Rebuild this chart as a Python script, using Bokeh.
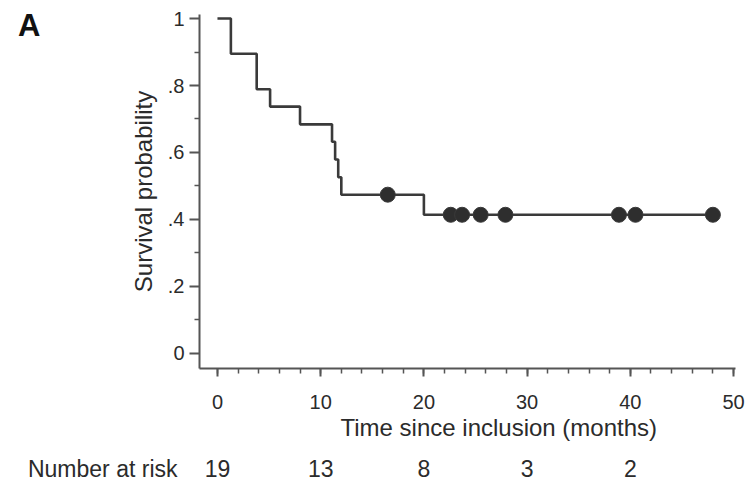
from bokeh.plotting import figure
from bokeh.models import Range1d, FixedTicker, LinearAxis, Title
from bokeh.layouts import column
from bokeh.core.properties import value
from bokeh.embed import file_html
from bokeh.resources import INLINE

# ---- data ----
step_times = [0, 1.3, 3.8, 5.1, 8.0, 11.1, 11.4, 11.7, 12.0, 20.0, 48.0]
survival = [1.0, 0.895, 0.789, 0.737, 0.684, 0.632, 0.579, 0.526, 0.474, 0.414, 0.414]
censor_times = [16.5, 22.6, 23.7, 25.5, 27.9, 38.9, 40.5, 48.0]
censor_surv = [0.474, 0.414, 0.414, 0.414, 0.414, 0.414, 0.414, 0.414]
risk_times = [0, 10, 20, 30, 40]
risk_counts = [19, 13, 8, 3, 2]
x_ticks = [0, 10, 20, 30, 40, 50]
y_ticks = [0, 0.2, 0.4, 0.6, 0.8, 1.0]
y_tick_labels = ["0", ".2", ".4", ".6", ".8", "1"]
panel_letter = "A"
risk_title = "Number at risk"
x_title = "Time since inclusion (months)"
y_title = "Survival probability"

FONT = "Liberation Sans"
INK = "#2b2b2b"
AXIS = "#555555"

W = 745
H_MAIN, H_RISK = 448, 34
LEFT, RIGHT, TOP = 199, 10, 14
BOTTOM = H_MAIN - 368
X0, X1 = -1.74, 50.19
Y0, Y1 = -0.045, 1.012


def style_fig(f):
    f.outline_line_color = None
    f.grid.visible = False
    f.background_fill_color = "white"
    f.border_fill_color = "white"


p = figure(width=W, height=H_MAIN, output_backend="svg", toolbar_location=None,
           x_range=Range1d(X0, X1), y_range=Range1d(Y0, Y1),
           min_border_left=LEFT, min_border_right=RIGHT,
           min_border_top=TOP, min_border_bottom=BOTTOM)
style_fig(p)

frame_h = H_MAIN - TOP - BOTTOM

# survival curve
p.step(step_times, survival, mode="after", line_color="#3a3a3a", line_width=2.6)
p.scatter(censor_times, censor_surv, size=15, marker="circle",
          fill_color="#2e2e2e", line_color="#3a3a3a", line_width=1)

# x axis
xa = p.xaxis[0]
xa.ticker = FixedTicker(ticks=x_ticks, minor_ticks=[v for v in range(0, 51, 2)])
xa.major_label_text_font = FONT
xa.major_label_text_font_size = "20px"
xa.major_label_text_color = INK
xa.major_label_standoff = 18
xa.axis_line_color = AXIS
xa.axis_line_width = 2
xa.major_tick_line_color = AXIS
xa.major_tick_line_width = 2
xa.major_tick_out = 8
xa.major_tick_in = 0
xa.minor_tick_line_color = AXIS
xa.minor_tick_line_width = 1.5
xa.minor_tick_out = 5
xa.minor_tick_in = 0

# x title, placed slightly right of the axis centre as in the reference
p.add_layout(Title(text=x_title, align="left", offset=141, standoff=0,
                   text_font=FONT, text_font_style="normal",
                   text_font_size="24px", text_color=INK), "below")

# y axis
ya = p.yaxis[0]
ya.ticker = FixedTicker(ticks=y_ticks, minor_ticks=[0.1, 0.3, 0.5, 0.7, 0.9])
ya.major_label_overrides = {t: l for t, l in zip(y_ticks, y_tick_labels)}
ya.axis_label = y_title
ya.axis_label_text_font = FONT
ya.axis_label_text_font_style = "normal"
ya.axis_label_text_font_size = "24px"
ya.axis_label_text_color = INK
ya.axis_label_standoff = 8
ya.major_label_text_font = FONT
ya.major_label_text_font_size = "20px"
ya.major_label_text_color = INK
ya.major_label_standoff = 5
ya.axis_line_color = AXIS
ya.axis_line_width = 2
ya.major_tick_line_color = AXIS
ya.major_tick_line_width = 2
ya.major_tick_out = 10
ya.major_tick_in = 0
ya.minor_tick_line_color = AXIS
ya.minor_tick_line_width = 1.5
ya.minor_tick_out = 5
ya.minor_tick_in = 0

# panel letter as an outer, line-less left axis with one labelled tick
A_PY = 25
a_tick = round(Y0 + (TOP + frame_h - A_PY) / frame_h * (Y1 - Y0), 3)
la = LinearAxis(ticker=FixedTicker(ticks=[a_tick], minor_ticks=[]),
                major_label_overrides={a_tick: panel_letter})
la.axis_line_color = None
la.major_tick_line_color = None
la.minor_tick_line_color = None
la.major_label_text_font = FONT
la.major_label_text_font_style = "bold"
la.major_label_text_font_size = "31px"
la.major_label_text_color = "#111111"
la.major_label_standoff = 80
p.add_layout(la, "left")

# number-at-risk row: a strip whose frame lines up with the main frame
r = figure(width=W, height=H_RISK, output_backend="svg", toolbar_location=None,
           x_range=Range1d(X0, X1), y_range=Range1d(0, H_RISK),
           min_border_left=LEFT, min_border_right=RIGHT,
           min_border_top=0, min_border_bottom=0)
style_fig(r)
r.xaxis.visible = False
RISK_Y = H_RISK - 20
r.text(risk_times, [RISK_Y] * len(risk_times), text=[str(c) for c in risk_counts],
       text_font=value(FONT), text_font_size="23px", text_color=INK,
       text_align="center", text_baseline="middle")
ry = r.yaxis[0]
ry.ticker = FixedTicker(ticks=[RISK_Y], minor_ticks=[])
ry.major_label_overrides = {RISK_Y: risk_title}
ry.axis_line_color = None
ry.major_tick_line_color = None
ry.minor_tick_line_color = None
ry.major_tick_out = 0
ry.major_label_text_font = FONT
ry.major_label_text_font_size = "23px"
ry.major_label_text_color = INK
ry.major_label_standoff = 22

layout = column(p, r, spacing=0)
open("out.html", "w").write(file_html(layout, INLINE))
